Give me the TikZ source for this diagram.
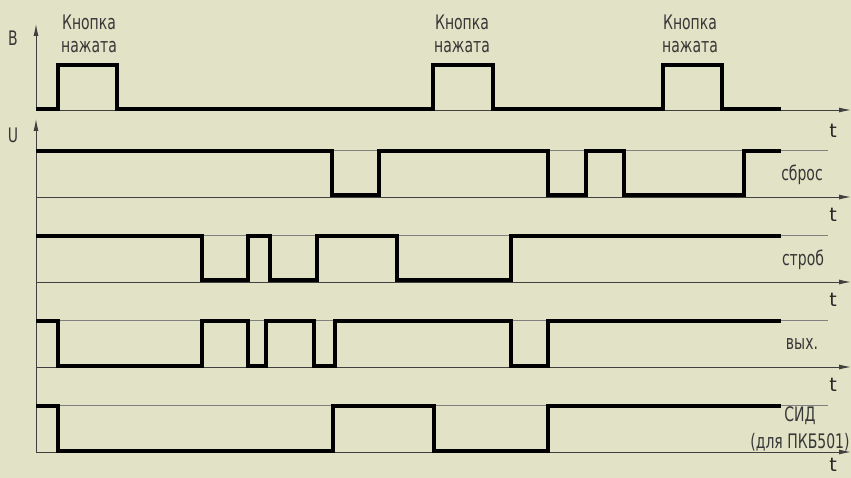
\documentclass[tikz,border=0pt]{standalone}
\usepackage{fontspec}
\setmainfont{DejaVu Sans}[FakeStretch=0.7]
\newfontfamily\tfont{DejaVu Sans}
\usetikzlibrary{arrows.meta}
\definecolor{paper}{RGB}{226,226,198}
\definecolor{ink}{RGB}{55,55,55}

\begin{document}
\begin{tikzpicture}[x=1pt, y=-1pt,
  axis/.style={draw=black!75, line width=0.9pt, -{Latex[length=12pt,width=5pt]}},
  refline/.style={draw=black!50, line width=0.9pt},
  sig/.style={draw=black, line width=4pt, line join=miter},
  lbl/.style={font=\fontsize{20}{22}\selectfont, text=ink, inner sep=0pt},
  tlbl/.style={font=\tfont\fontsize{19}{21}\selectfont, text=black!85, inner sep=0pt}]
  % page: 851 x 478, y grows downwards
  \fill[paper] (0,0) rectangle (851,478);
  \useasboundingbox (0,0) rectangle (851,478);
  % vertical axes
  \draw[axis] (36,110) -- (36,24);
  \draw[axis] (36,452) -- (36,119);
  \node[lbl] (labB) at (13,38) {В};
  \node[lbl] (labU) at (13,135) {U};
  % time axes and high level lines
  \draw[axis] (36,110) -- (851,110);
  \node[tlbl] (t1) at (833,131) {t};
  \foreach \lo/\hi/\ty [count=\i from 2] in {197/150/215, 282/235/300, 367/320/385, 452/405/465} {
    \draw[refline] (36,\hi) -- (828,\hi);
    \draw[axis] (36,\lo) -- (851,\lo);
    \node[tlbl] (t\i) at (833,\ty) {t};
  }
  % button
  \draw[sig] (36,109.5) -| (58,65.5) -| (117,109.5) -| (433,65.5) -| (493,109.5)
    -| (663,65.5) -| (722,109.5) -- (781,109.5);
  \foreach \x in {89,462,690} {
    \node[lbl] at (\x,22) {Кнопка};
    \node[lbl] at (\x,47) {нажата};
  }
  % reset
  \draw[sig] (36,151) -| (332,195.5) -| (379,151) -| (548,195.5) -| (586,151)
    -| (624,195.5) -| (744,151) -- (781,151);
  \node[lbl] (labR) at (802,175) {сброс};
  % strobe
  \draw[sig] (36,236) -| (202,280.5) -| (248,236) -| (270,280.5) -| (317,236)
    -| (397,280.5) -| (511,236) -- (781,236);
  \node[lbl] (labS) at (803,260) {строб};
  % output
  \draw[sig] (36,321) -| (58,365.5) -| (202,321) -| (248,365.5) -| (266,321)
    -| (314,365.5) -| (335,321) -| (511,365.5) -| (548,321) -- (781,321);
  \node[lbl] (labO) at (802,344) {вых.};
  % LED
  \draw[sig] (36,406) -| (58,450.5) -| (333,406) -| (434,450.5) -| (548,406)
    -- (781,406);
  \node[lbl] (labL) at (800,416) {СИД};
  \node[lbl] (labL2) at (800,442) {(для ПКБ501)};
\end{tikzpicture}
\end{document}
